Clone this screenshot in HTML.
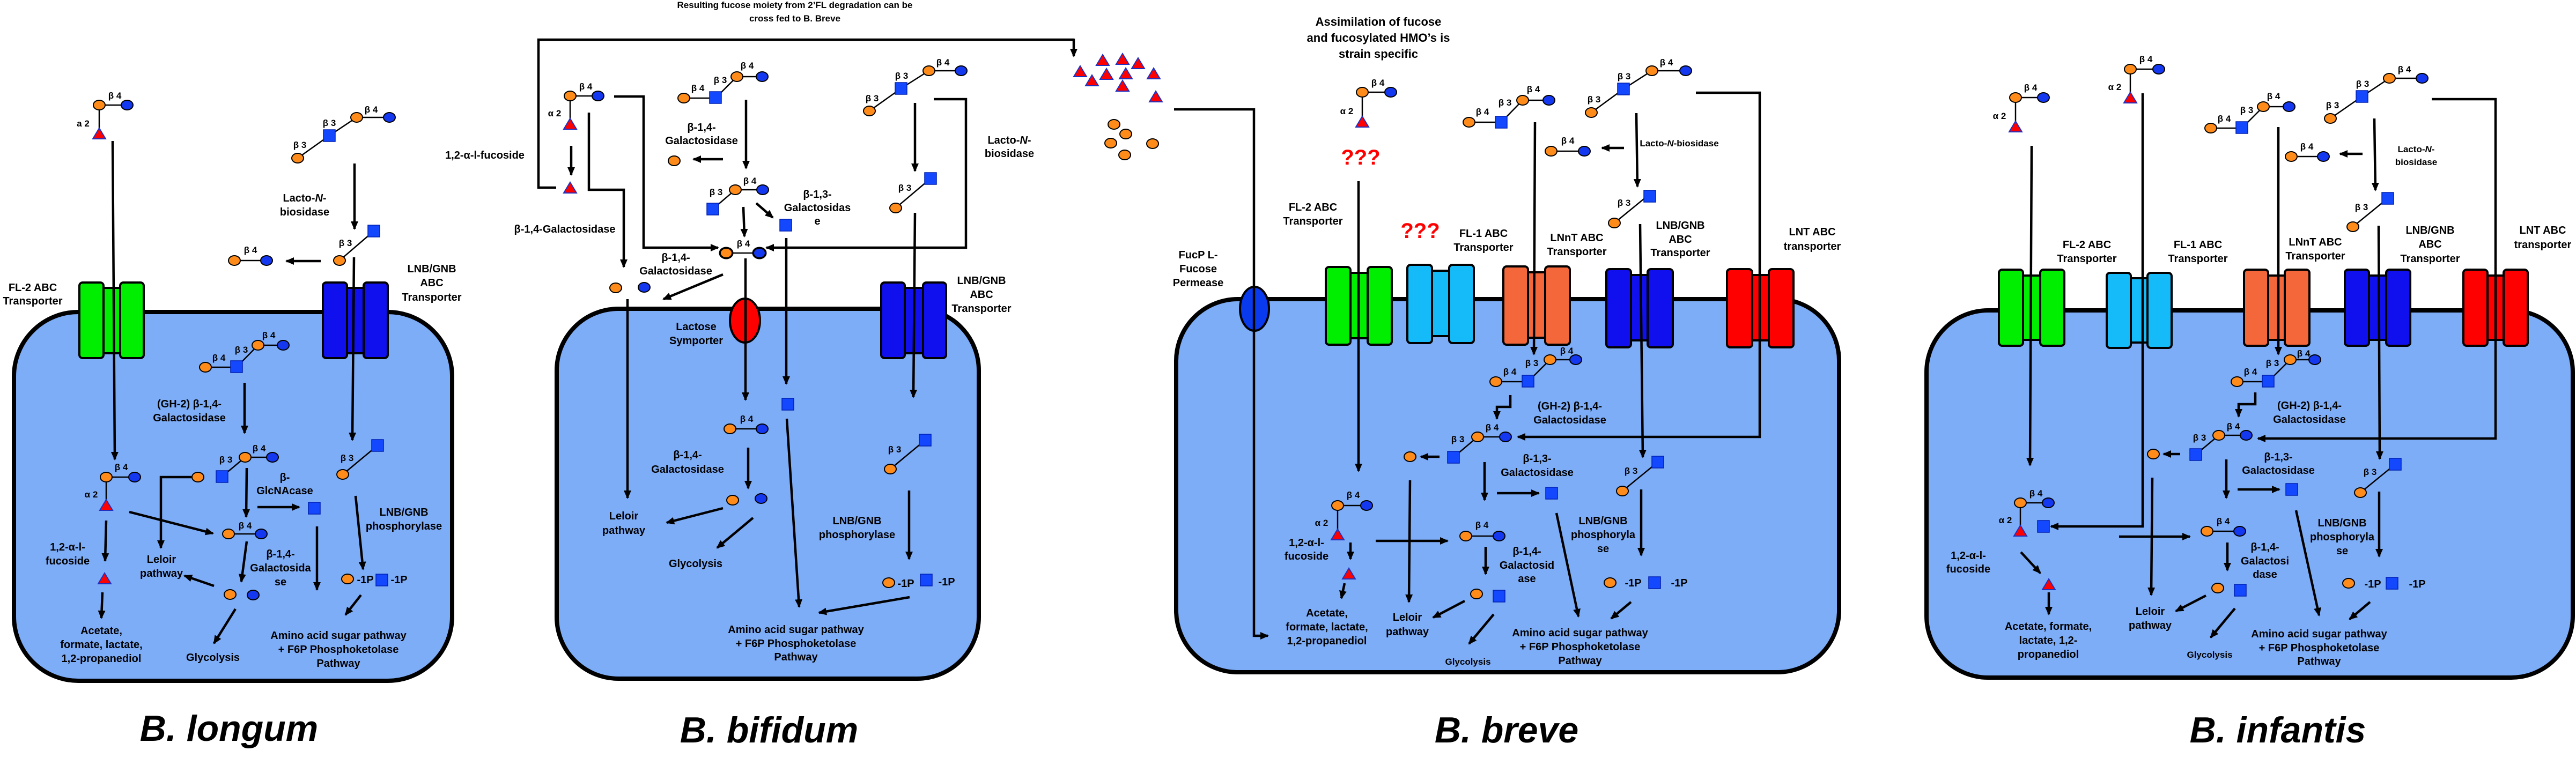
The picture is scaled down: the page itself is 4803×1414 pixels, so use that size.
<!DOCTYPE html>
<html><head><meta charset="utf-8"><style>
html,body{margin:0;padding:0;background:#fff}
svg{display:block}
text{font-family:"Liberation Sans",sans-serif;font-weight:bold;text-anchor:middle;fill:#000}
.t{font-size:20px}.b{font-size:17px}.s{font-size:17px}
.ttl{font-size:68px;font-style:italic}
.l{stroke:#000;stroke-width:4.5;fill:none}
.a{stroke:#000;stroke-width:4.5;fill:none;marker-end:url(#ah)}
.k{stroke:#000;stroke-width:2.5;fill:none}
.cell{fill:#7EADF8;stroke:#000;stroke-width:8}
.tb{stroke:#000;stroke-width:4}
.q{fill:#f00;font-size:40px}
</style></head><body>
<svg width="4803" height="1414" viewBox="0 0 4803 1414" xmlns="http://www.w3.org/2000/svg">
<defs>
<marker id="ah" markerUnits="userSpaceOnUse" markerWidth="16" markerHeight="14" refX="14" refY="7" orient="auto"><path d="M0,0 L16,7 L0,14 z" fill="#000"/></marker>
<ellipse id="gal" cx="0" cy="0" rx="11" ry="9" fill="#FF8C1A" stroke="#000" stroke-width="2"/>
<ellipse id="glc" cx="0" cy="0" rx="11" ry="9" fill="#1438F0" stroke="#000" stroke-width="2"/>
<rect id="sq" x="-11" y="-11" width="22" height="22" fill="#1448FF" stroke="#0020B0" stroke-width="1.5"/>
<polygon id="tri" points="0,-11 12,9 -12,9" fill="#F00" stroke="#2030C0" stroke-width="2"/>
</defs>

<!-- ============ PANEL 1: B. longum ============ -->
<rect class="cell" x="26" y="582" width="817" height="688" rx="120" ry="120"/>
<rect class="tb" x="193" y="537" width="31" height="122" fill="#00EE00"/>
<rect class="tb" x="148" y="527" width="45" height="141" rx="6" fill="#00EE00"/>
<rect class="tb" x="224" y="527" width="44" height="141" rx="6" fill="#00EE00"/>
<rect class="tb" x="647" y="537" width="31" height="122" fill="#1010EE"/>
<rect class="tb" x="602" y="527" width="45" height="141" rx="6" fill="#1010EE"/>
<rect class="tb" x="678" y="527" width="45" height="141" rx="6" fill="#1010EE"/>

<text class="t" x="61" y="543">FL-2 ABC</text><text class="t" x="61" y="568">Transporter</text>
<text class="t" x="805" y="508">LNB/GNB</text><text class="t" x="805" y="534">ABC</text><text class="t" x="805" y="561">Transporter</text>
<text class="t" x="568" y="376">Lacto-<tspan font-style="italic">N</tspan>-</text><text class="t" x="568" y="402">biosidase</text>
<text class="t" x="353" y="760">(GH-2) β-1,4-</text><text class="t" x="353" y="786">Galactosidase</text>
<text class="t" x="531" y="897">β-</text><text class="t" x="531" y="922">GlcNAcase</text>
<text class="t" x="523" y="1040">β-1,4-</text><text class="t" x="523" y="1066">Galactosida</text><text class="t" x="523" y="1092">se</text>
<text class="t" x="301" y="1050">Leloir</text><text class="t" x="301" y="1076">pathway</text>
<text class="t" x="397" y="1233">Glycolysis</text>
<text class="t" x="126" y="1027">1,2-α-l-</text><text class="t" x="126" y="1053">fucoside</text>
<text class="t" x="189" y="1183">Acetate,</text><text class="t" x="189" y="1209">formate, lactate,</text><text class="t" x="189" y="1235">1,2-propanediol</text>
<text class="t" x="753" y="962">LNB/GNB</text><text class="t" x="753" y="988">phosphorylase</text>
<text class="t" x="631" y="1192">Amino acid sugar pathway</text><text class="t" x="631" y="1218">+ F6P Phosphoketolase</text><text class="t" x="631" y="1244">Pathway</text>
<text class="ttl" x="427" y="1382">B. longum</text>

<path class="k" d="M185,196H237M185,196V240"/><use href="#gal" x="185" y="196"/><use href="#glc" x="237" y="196"/><use href="#tri" x="185" y="250"/>
<text class="b" x="214" y="184">β 4</text><text class="b" x="155" y="236">a 2</text>
<path class="a" d="M210,263L214,857"/>
<path class="k" d="M555,295L614,253L665,219H726"/><use href="#gal" x="555" y="295"/><use href="#sq" x="614" y="253"/><use href="#gal" x="665" y="219"/><use href="#glc" x="726" y="219"/>
<text class="b" x="559" y="276">β 3</text><text class="b" x="614" y="235">β 3</text><text class="b" x="692" y="210">β 4</text>
<path class="a" d="M661,305V427"/>
<path class="k" d="M633,486L697,431"/><use href="#gal" x="633" y="486"/><use href="#sq" x="697" y="431"/><text class="b" x="644" y="459">β 3</text>
<path class="a" d="M598,487H534"/>
<path class="k" d="M437,486H497"/><use href="#gal" x="437" y="486"/><use href="#glc" x="497" y="486"/><text class="b" x="467" y="472">β 4</text>
<path class="a" d="M660,480L657,821"/>
<path class="k" d="M383,685H441L481,644H528"/><use href="#gal" x="383" y="685"/><use href="#sq" x="441" y="684"/><use href="#gal" x="481" y="644"/><use href="#glc" x="528" y="644"/>
<text class="b" x="408" y="673">β 4</text><text class="b" x="450" y="658">β 3</text><text class="b" x="501" y="631">β 4</text>
<path class="a" d="M456,714V808"/>
<path class="k" d="M414,889L457,853H508"/><use href="#sq" x="414" y="889"/><use href="#gal" x="457" y="853"/><use href="#glc" x="508" y="853"/>
<text class="b" x="421" y="863">β 3</text><text class="b" x="483" y="842">β 4</text>
<path class="a" d="M460,873L459,964"/>
<path class="a" d="M480,946H558"/><use href="#sq" x="586" y="948"/>
<path class="a" d="M591,982V1100"/>
<path class="k" d="M426,996H487"/><use href="#gal" x="426" y="996"/><use href="#glc" x="487" y="996"/><text class="b" x="457" y="986">β 4</text>
<path class="a" d="M460,1010L450,1085"/>
<use href="#gal" x="429" y="1109"/><use href="#glc" x="472" y="1110"/>
<path class="a" d="M399,1093L344,1074"/>
<use href="#gal" x="369" y="890"/><path class="a" d="M357,890H300V1022"/>
<path class="a" d="M439,1136L399,1200"/>
<path class="k" d="M198,890H251M198,890V933"/><use href="#gal" x="198" y="890"/><use href="#glc" x="251" y="890"/><use href="#tri" x="198" y="943"/>
<text class="b" x="226" y="877">β 4</text><text class="b" x="170" y="928">α 2</text>
<path class="a" d="M198,971L196,1046"/><use href="#tri" x="195" y="1080"/>
<path class="a" d="M191,1105L189,1153"/>
<path class="a" d="M241,955L397,995"/>
<path class="k" d="M639,885L704,831"/><use href="#gal" x="639" y="885"/><use href="#sq" x="704" y="831"/><text class="b" x="647" y="860">β 3</text>
<path class="a" d="M663,925L677,1062"/>
<use href="#gal" x="648" y="1080"/><text class="t" x="681" y="1088">-1P</text><use href="#sq" x="712" y="1082"/><text class="t" x="744" y="1088">-1P</text>
<path class="a" d="M673,1110L644,1147"/>

<!-- ============ PANEL 2: B. bifidum ============ -->
<text class="s" x="1482" y="15">Resulting fucose moiety from 2’FL degradation can be</text>
<text class="s" x="1482" y="40">cross fed to B. Breve</text>
<path class="l" d="M1037,350H1004V74H2002"/><path class="a" d="M2002,72V105"/>
<text class="t" x="904" y="296">1,2-α-l-fucoside</text>
<text class="t" x="1053" y="434">β-1,4-Galactosidase</text>

<rect class="cell" x="1038" y="576" width="787" height="690" rx="115" ry="115"/>
<rect class="tb" x="1687" y="537" width="34" height="122" fill="#1010EE"/>
<rect class="tb" x="1643" y="527" width="44" height="141" rx="6" fill="#1010EE"/>
<rect class="tb" x="1721" y="527" width="43" height="141" rx="6" fill="#1010EE"/>
<ellipse cx="1389" cy="598" rx="28" ry="41" fill="#F00" stroke="#000" stroke-width="4"/>

<path class="k" d="M1063,179H1115M1063,179V222"/><use href="#gal" x="1063" y="179"/><use href="#glc" x="1115" y="179"/><use href="#tri" x="1063" y="232"/>
<text class="b" x="1092" y="167">β 4</text><text class="b" x="1034" y="217">α 2</text>
<path class="a" d="M1065,272V326"/><use href="#tri" x="1063" y="351"/>
<path class="a" d="M1145,180H1200V462H1339"/>
<path class="a" d="M1098,210V354H1163V498"/>
<use href="#gal" x="1148" y="537"/><use href="#glc" x="1201" y="536"/>
<text class="t" x="1260" y="487">β-1,4-</text><text class="t" x="1260" y="512">Galactosidase</text>
<path class="a" d="M1348,512L1237,558"/>
<path class="a" d="M1170,558V929"/>
<path class="k" d="M1275,183H1334L1374,143H1421"/><use href="#gal" x="1275" y="183"/><use href="#sq" x="1334" y="182"/><use href="#gal" x="1374" y="143"/><use href="#glc" x="1421" y="143"/>
<text class="b" x="1301" y="170">β 4</text><text class="b" x="1343" y="155">β 3</text><text class="b" x="1393" y="128">β 4</text>
<path class="a" d="M1391,186V314"/>
<text class="t" x="1308" y="244">β-1,4-</text><text class="t" x="1308" y="269">Galactosidase</text>
<path class="a" d="M1348,297H1293"/><use href="#gal" x="1257" y="300"/>
<path class="k" d="M1329,390L1371,354H1422"/><use href="#sq" x="1329" y="390"/><use href="#gal" x="1371" y="354"/><use href="#glc" x="1422" y="354"/>
<text class="b" x="1335" y="364">β 3</text><text class="b" x="1398" y="343">β 4</text>
<path class="a" d="M1386,386L1388,441"/>
<path class="a" d="M1410,379L1441,406"/><use href="#sq" x="1465" y="420"/>
<text class="t" x="1524" y="369">β-1,3-</text><text class="t" x="1524" y="394">Galactosidas</text><text class="t" x="1524" y="419">e</text>
<path class="k" d="M1354,472H1416"/><use href="#gal" x="1354" y="472"/><use href="#glc" x="1416" y="472"/>
<ellipse cx="1354" cy="472" rx="12" ry="10" fill="none" stroke="#000" stroke-width="3"/><ellipse cx="1416" cy="472" rx="12" ry="10" fill="none" stroke="#000" stroke-width="3"/>
<text class="b" x="1386" y="460">β 4</text>
<path class="a" d="M1466,444V716"/>
<path class="a" d="M1390,482V746"/>
<text class="t" x="1298" y="616">Lactose</text><text class="t" x="1298" y="642">Symporter</text>
<text class="t" x="1830" y="530">LNB/GNB</text><text class="t" x="1830" y="556">ABC</text><text class="t" x="1830" y="582">Transporter</text>
<path class="k" d="M1621,207L1680,165L1732,132H1792"/><use href="#gal" x="1621" y="207"/><use href="#sq" x="1680" y="165"/><use href="#gal" x="1732" y="132"/><use href="#glc" x="1792" y="132"/>
<text class="b" x="1626" y="189">β 3</text><text class="b" x="1681" y="147">β 3</text><text class="b" x="1758" y="122">β 4</text>
<path class="a" d="M1706,192V319"/>
<path class="a" d="M1741,185H1801V462H1429"/>
<text class="t" x="1882" y="268">Lacto-<tspan font-style="italic">N</tspan>-</text><text class="t" x="1882" y="293">biosidase</text>
<path class="k" d="M1670,388L1735,333"/><use href="#gal" x="1670" y="388"/><use href="#sq" x="1735" y="333"/><text class="b" x="1687" y="356">β 3</text>
<path class="a" d="M1706,397L1703,741"/>
<use href="#sq" x="1469" y="754"/>
<path class="a" d="M1467,781L1490,1132"/>
<path class="k" d="M1361,800H1421"/><use href="#gal" x="1361" y="800"/><use href="#glc" x="1421" y="800"/><text class="b" x="1392" y="787">β 4</text>
<text class="t" x="1282" y="855">β-1,4-</text><text class="t" x="1282" y="882">Galactosidase</text>
<path class="a" d="M1395,835V911"/>
<use href="#gal" x="1366" y="933"/><use href="#glc" x="1419" y="930"/>
<path class="a" d="M1348,948L1243,975"/>
<path class="a" d="M1404,966L1337,1022"/>
<text class="t" x="1163" y="969">Leloir</text><text class="t" x="1163" y="996">pathway</text>
<text class="t" x="1297" y="1058">Glycolysis</text>
<path class="k" d="M1660,875L1725,821"/><use href="#gal" x="1660" y="875"/><use href="#sq" x="1725" y="821"/><text class="b" x="1668" y="844">β 3</text>
<path class="a" d="M1695,915V1043"/>
<text class="t" x="1598" y="978">LNB/GNB</text><text class="t" x="1598" y="1004">phosphorylase</text>
<use href="#gal" x="1657" y="1087"/><text class="t" x="1689" y="1095">-1P</text><use href="#sq" x="1727" y="1082"/><text class="t" x="1765" y="1092">-1P</text>
<path class="a" d="M1696,1114L1527,1143"/>
<text class="t" x="1484" y="1181">Amino acid sugar pathway</text><text class="t" x="1484" y="1207">+ F6P Phosphoketolase</text><text class="t" x="1484" y="1232">Pathway</text>
<text class="ttl" x="1434" y="1385">B. bifidum</text>

<use href="#tri" x="2014" y="134"/><use href="#tri" x="2056" y="113"/><use href="#tri" x="2093" y="111"/><use href="#tri" x="2122" y="119"/><use href="#tri" x="2151" y="138"/>
<use href="#tri" x="2036" y="151"/><use href="#tri" x="2063" y="139"/><use href="#tri" x="2099" y="138"/><use href="#tri" x="2093" y="161"/><use href="#tri" x="2155" y="181"/>
<use href="#gal" x="2077" y="232"/><use href="#gal" x="2099" y="250"/><use href="#gal" x="2071" y="267"/><use href="#gal" x="2149" y="268"/><use href="#gal" x="2097" y="289"/>

<!-- ============ PANEL 3: B. breve ============ -->
<text style="font-size:22px" x="2570" y="48">Assimilation of fucose</text>
<text style="font-size:22px" x="2570" y="78">and fucosylated HMO’s is</text>
<text style="font-size:22px" x="2570" y="108">strain specific</text>
<rect class="cell" x="2193" y="558" width="1236" height="696" rx="115" ry="115"/>
<path class="a" d="M2189,204H2338V1186H2364"/>
<ellipse cx="2339" cy="576" rx="27" ry="41" fill="#0A3AEE" stroke="#000" stroke-width="4"/>
<path class="l" d="M2338,535V617"/>
<rect class="tb" x="2518" y="509" width="32" height="122" fill="#00EE00"/>
<rect class="tb" x="2472" y="498" width="46" height="145" rx="6" fill="#00EE00"/>
<rect class="tb" x="2550" y="498" width="45" height="145" rx="6" fill="#00EE00"/>
<rect class="tb" x="2670" y="505" width="32" height="122" fill="#14BBF8"/>
<rect class="tb" x="2624" y="494" width="46" height="146" rx="6" fill="#14BBF8"/>
<rect class="tb" x="2702" y="494" width="46" height="146" rx="6" fill="#14BBF8"/>
<rect class="tb" x="2849" y="508" width="32" height="122" fill="#F4673A"/>
<rect class="tb" x="2803" y="497" width="46" height="146" rx="6" fill="#F4673A"/>
<rect class="tb" x="2881" y="497" width="46" height="146" rx="6" fill="#F4673A"/>
<rect class="tb" x="3041" y="513" width="31" height="122" fill="#1010EE"/>
<rect class="tb" x="2995" y="502" width="46" height="146" rx="6" fill="#1010EE"/>
<rect class="tb" x="3072" y="502" width="47" height="146" rx="6" fill="#1010EE"/>
<rect class="tb" x="3267" y="513" width="31" height="122" fill="#F00"/>
<rect class="tb" x="3220" y="502" width="47" height="146" rx="6" fill="#F00"/>
<rect class="tb" x="3298" y="502" width="46" height="146" rx="6" fill="#F00"/>

<text class="t" x="2234" y="482">FucP L-</text><text class="t" x="2234" y="508">Fucose</text><text class="t" x="2234" y="534">Permease</text>
<text class="t" x="2448" y="393">FL-2 ABC</text><text class="t" x="2448" y="419">Transporter</text>
<text class="q" x="2648" y="444">???</text>
<text class="t" x="2766" y="442">FL-1 ABC</text><text class="t" x="2766" y="468">Transporter</text>
<text class="t" x="2940" y="450">LNnT ABC</text><text class="t" x="2940" y="476">Transporter</text>
<text class="t" x="3133" y="427">LNB/GNB</text><text class="t" x="3133" y="453">ABC</text><text class="t" x="3133" y="478">Transporter</text>
<text class="t" x="3379" y="439">LNT ABC</text><text class="t" x="3379" y="466">transporter</text>

<path class="k" d="M2540,172H2593M2540,172V218"/><use href="#gal" x="2540" y="172"/><use href="#glc" x="2593" y="172"/><use href="#tri" x="2540" y="228"/>
<text class="b" x="2569" y="160">β 4</text><text class="b" x="2511" y="213">α 2</text>
<text class="q" x="2537" y="307">???</text>
<path class="a" d="M2533,338V879"/>
<path class="k" d="M2739,228H2799L2839,187H2888"/><use href="#gal" x="2739" y="228"/><use href="#sq" x="2799" y="228"/><use href="#gal" x="2839" y="187"/><use href="#glc" x="2888" y="187"/>
<text class="b" x="2764" y="214">β 4</text><text class="b" x="2806" y="197">β 3</text><text class="b" x="2859" y="172">β 4</text>
<path class="a" d="M2862,228L2860,661"/>
<path class="k" d="M2967,210L3027,166L3080,132H3143"/><use href="#gal" x="2967" y="210"/><use href="#sq" x="3027" y="166"/><use href="#gal" x="3080" y="132"/><use href="#glc" x="3143" y="132"/>
<text class="b" x="2972" y="191">β 3</text><text class="b" x="3028" y="148">β 3</text><text class="b" x="3107" y="122">β 4</text>
<path class="a" d="M3162,173H3281V815H2830"/>
<path class="a" d="M3051,211L3053,348"/>
<path class="a" d="M3028,276H2987"/>
<path class="k" d="M2892,282H2954"/><use href="#gal" x="2892" y="282"/><use href="#glc" x="2954" y="282"/><text class="b" x="2923" y="268">β 4</text>
<text class="s" x="3131" y="273">Lacto-<tspan font-style="italic">N</tspan>-biosidase</text>
<path class="k" d="M3010,416L3076,362"/><use href="#gal" x="3010" y="416"/><use href="#sq" x="3076" y="366"/><text class="b" x="3028" y="384">β 3</text>
<path class="a" d="M3058,418L3063,853"/>
<path class="k" d="M2789,712H2849L2890,671H2938"/><use href="#gal" x="2789" y="712"/><use href="#sq" x="2849" y="711"/><use href="#gal" x="2890" y="671"/><use href="#glc" x="2938" y="671"/>
<text class="b" x="2815" y="699">β 4</text><text class="b" x="2856" y="683">β 3</text><text class="b" x="2921" y="660">β 4</text>
<path class="a" d="M2816,737V759H2791V781"/>
<text class="t" x="2927" y="764">(GH-2) β-1,4-</text><text class="t" x="2927" y="790">Galactosidase</text>
<path class="k" d="M2710,853L2755,815H2807"/><use href="#sq" x="2710" y="853"/><use href="#gal" x="2755" y="815"/><use href="#glc" x="2807" y="815"/>
<text class="b" x="2718" y="825">β 3</text><text class="b" x="2782" y="803">β 4</text>
<path class="a" d="M2684,852H2649"/><use href="#gal" x="2629" y="852"/>
<path class="a" d="M2629,896L2627,1123"/>
<path class="a" d="M2768,862V933"/>
<text class="t" x="2866" y="862">β-1,3-</text><text class="t" x="2866" y="888">Galactosidase</text>
<path class="a" d="M2791,920H2869"/><use href="#sq" x="2893" y="920"/>
<path class="a" d="M2902,957L2943,1150"/>
<path class="k" d="M2494,943H2548M2494,943V988"/><use href="#gal" x="2494" y="943"/><use href="#glc" x="2548" y="943"/><use href="#tri" x="2494" y="998"/>
<text class="b" x="2523" y="929">β 4</text><text class="b" x="2464" y="981">α 2</text>
<text class="t" x="2436" y="1019">1,2-α-l-</text><text class="t" x="2436" y="1044">fucoside</text>
<path class="a" d="M2518,1012V1043"/><use href="#tri" x="2515" y="1071"/>
<path class="a" d="M2507,1088L2501,1116"/>
<text class="t" x="2474" y="1150">Acetate,</text><text class="t" x="2474" y="1176">formate, lactate,</text><text class="t" x="2474" y="1202">1,2-propanediol</text>
<path class="a" d="M2565,1009H2699"/>
<path class="k" d="M2733,1000H2795"/><use href="#gal" x="2733" y="1000"/><use href="#glc" x="2795" y="1000"/><text class="b" x="2763" y="985">β 4</text>
<text class="t" x="2847" y="1035">β-1,4-</text><text class="t" x="2847" y="1061">Galactosid</text><text class="t" x="2847" y="1086">ase</text>
<path class="a" d="M2770,1020V1071"/>
<use href="#gal" x="2753" y="1108"/><use href="#sq" x="2795" y="1112"/>
<path class="a" d="M2731,1121L2672,1152"/>
<text class="t" x="2624" y="1158">Leloir</text><text class="t" x="2624" y="1185">pathway</text>
<path class="a" d="M2785,1146L2739,1201"/>
<text class="s" x="2737" y="1240">Glycolysis</text>
<path class="k" d="M3025,916L3091,862"/><use href="#gal" x="3025" y="916"/><use href="#sq" x="3091" y="862"/><text class="b" x="3041" y="884">β 3</text>
<path class="a" d="M3060,913V1036"/>
<text class="t" x="2989" y="978">LNB/GNB</text><text class="t" x="2989" y="1004">phosphoryla</text><text class="t" x="2989" y="1030">se</text>
<use href="#gal" x="3002" y="1087"/><text class="t" x="3045" y="1094">-1P</text><use href="#sq" x="3085" y="1087"/><text class="t" x="3131" y="1094">-1P</text>
<path class="a" d="M3041,1123L3004,1154"/>
<text class="t" x="2946" y="1187">Amino acid sugar pathway</text><text class="t" x="2946" y="1213">+ F6P Phosphoketolase</text><text class="t" x="2946" y="1239">Pathway</text>
<text class="ttl" x="2809" y="1385">B. breve</text>

<!-- ============ PANEL 4: B. infantis ============ -->
<rect class="cell" x="3592" y="579" width="1205" height="685" rx="115" ry="115"/>
<rect class="tb" x="3772" y="514" width="32" height="120" fill="#00EE00"/>
<rect class="tb" x="3727" y="503" width="45" height="142" rx="6" fill="#00EE00"/>
<rect class="tb" x="3804" y="503" width="45" height="142" rx="6" fill="#00EE00"/>
<rect class="tb" x="3973" y="519" width="31" height="120" fill="#14BBF8"/>
<rect class="tb" x="3928" y="509" width="45" height="140" rx="6" fill="#14BBF8"/>
<rect class="tb" x="4004" y="509" width="45" height="140" rx="6" fill="#14BBF8"/>
<rect class="tb" x="4229" y="514" width="31" height="120" fill="#F4673A"/>
<rect class="tb" x="4184" y="503" width="45" height="142" rx="6" fill="#F4673A"/>
<rect class="tb" x="4260" y="503" width="46" height="142" rx="6" fill="#F4673A"/>
<rect class="tb" x="4417" y="514" width="32" height="120" fill="#1010EE"/>
<rect class="tb" x="4372" y="503" width="45" height="142" rx="6" fill="#1010EE"/>
<rect class="tb" x="4449" y="503" width="45" height="142" rx="6" fill="#1010EE"/>
<rect class="tb" x="4638" y="514" width="30" height="120" fill="#F00"/>
<rect class="tb" x="4593" y="503" width="45" height="142" rx="6" fill="#F00"/>
<rect class="tb" x="4668" y="503" width="45" height="142" rx="6" fill="#F00"/>

<text class="t" x="3891" y="463">FL-2 ABC</text><text class="t" x="3891" y="489">Transporter</text>
<text class="t" x="4098" y="463">FL-1 ABC</text><text class="t" x="4098" y="489">Transporter</text>
<text class="t" x="4317" y="458">LNnT ABC</text><text class="t" x="4317" y="484">Transporter</text>
<text class="t" x="4531" y="436">LNB/GNB</text><text class="t" x="4531" y="462">ABC</text><text class="t" x="4531" y="489">Transporter</text>
<text class="t" x="4741" y="436">LNT ABC</text><text class="t" x="4741" y="463">transporter</text>

<path class="k" d="M3758,182H3810M3758,182V227"/><use href="#gal" x="3758" y="182"/><use href="#glc" x="3810" y="182"/><use href="#tri" x="3758" y="237"/>
<text class="b" x="3786" y="169">β 4</text><text class="b" x="3728" y="222">α 2</text>
<path class="a" d="M3788,272L3785,868"/>
<path class="k" d="M3972,129H4025M3972,129V173"/><use href="#gal" x="3972" y="129"/><use href="#glc" x="4025" y="129"/><use href="#tri" x="3972" y="183"/>
<text class="b" x="4001" y="116">β 4</text><text class="b" x="3943" y="168">α 2</text>
<path class="a" d="M3995,174V982H3824"/><use href="#sq" x="3810" y="982"/>
<path class="k" d="M4122,239H4180L4220,199H4268"/><use href="#gal" x="4122" y="239"/><use href="#sq" x="4180" y="238"/><use href="#gal" x="4220" y="199"/><use href="#glc" x="4268" y="199"/>
<text class="b" x="4147" y="227">β 4</text><text class="b" x="4189" y="211">β 3</text><text class="b" x="4239" y="185">β 4</text>
<path class="a" d="M4248,237V661"/>
<path class="k" d="M4345,221L4404,180L4455,146H4516"/><use href="#gal" x="4345" y="221"/><use href="#sq" x="4404" y="180"/><use href="#gal" x="4455" y="146"/><use href="#glc" x="4516" y="146"/>
<text class="b" x="4349" y="202">β 3</text><text class="b" x="4405" y="162">β 3</text><text class="b" x="4483" y="135">β 4</text>
<path class="a" d="M4534,185H4653V818H4210"/>
<path class="a" d="M4427,221L4429,355"/>
<path class="a" d="M4405,287H4363"/>
<path class="k" d="M4272,292H4332"/><use href="#gal" x="4272" y="292"/><use href="#glc" x="4332" y="292"/><text class="b" x="4301" y="279">β 4</text>
<text class="s" x="4505" y="284">Lacto-<tspan font-style="italic">N</tspan>-</text><text class="s" x="4505" y="308">biosidase</text>
<path class="k" d="M4387,423L4452,370"/><use href="#gal" x="4387" y="423"/><use href="#sq" x="4452" y="370"/><text class="b" x="4403" y="392">β 3</text>
<path class="a" d="M4435,421L4437,856"/>
<path class="k" d="M4171,712H4229L4270,671H4316"/><use href="#gal" x="4171" y="712"/><use href="#sq" x="4229" y="711"/><use href="#gal" x="4270" y="671"/><use href="#glc" x="4316" y="671"/>
<text class="b" x="4196" y="699">β 4</text><text class="b" x="4237" y="683">β 3</text><text class="b" x="4295" y="665">β 4</text>
<path class="a" d="M4205,732V754H4174V777"/>
<text class="t" x="4306" y="763">(GH-2) β-1,4-</text><text class="t" x="4306" y="789">Galactosidase</text>
<path class="k" d="M4094,848L4137,812H4188"/><use href="#sq" x="4094" y="848"/><use href="#gal" x="4137" y="812"/><use href="#glc" x="4188" y="812"/>
<text class="b" x="4101" y="822">β 3</text><text class="b" x="4164" y="801">β 4</text>
<path class="a" d="M4065,847H4034"/><use href="#gal" x="4015" y="847"/>
<path class="a" d="M4013,891L4011,1110"/>
<path class="a" d="M4151,857V929"/>
<text class="t" x="4248" y="859">β-1,3-</text><text class="t" x="4248" y="884">Galactosidase</text>
<path class="a" d="M4172,913H4250"/><use href="#sq" x="4273" y="913"/>
<path class="a" d="M4281,952L4324,1148"/>
<path class="k" d="M3767,938H3819M3767,938V981"/><use href="#gal" x="3767" y="938"/><use href="#glc" x="3819" y="938"/><use href="#tri" x="3767" y="991"/>
<text class="b" x="3796" y="926">β 4</text><text class="b" x="3739" y="976">α 2</text>
<text class="t" x="3670" y="1043">1,2-α-l-</text><text class="t" x="3670" y="1068">fucoside</text>
<path class="a" d="M3768,1030L3804,1069"/><use href="#tri" x="3820" y="1091"/>
<path class="a" d="M3820,1105V1146"/>
<text class="t" x="3819" y="1175">Acetate, formate,</text><text class="t" x="3819" y="1201">lactate, 1,2-</text><text class="t" x="3819" y="1227">propanediol</text>
<path class="a" d="M3951,1001H4083"/>
<path class="k" d="M4115,991H4176"/><use href="#gal" x="4115" y="991"/><use href="#glc" x="4176" y="991"/><text class="b" x="4145" y="978">β 4</text>
<text class="t" x="4223" y="1027">β-1,4-</text><text class="t" x="4223" y="1053">Galactosi</text><text class="t" x="4223" y="1078">dase</text>
<path class="a" d="M4153,1012V1064"/>
<use href="#gal" x="4135" y="1097"/><use href="#sq" x="4177" y="1101"/>
<path class="a" d="M4113,1111L4057,1140"/>
<text class="t" x="4009" y="1147">Leloir</text><text class="t" x="4009" y="1173">pathway</text>
<path class="a" d="M4167,1135L4122,1189"/>
<text class="s" x="4120" y="1227">Glycolysis</text>
<path class="k" d="M4401,919L4466,866"/><use href="#gal" x="4401" y="919"/><use href="#sq" x="4466" y="866"/><text class="b" x="4419" y="886">β 3</text>
<path class="a" d="M4436,917V1038"/>
<text class="t" x="4367" y="982">LNB/GNB</text><text class="t" x="4367" y="1008">phosphoryla</text><text class="t" x="4367" y="1034">se</text>
<use href="#gal" x="4379" y="1088"/><text class="t" x="4424" y="1096">-1P</text><use href="#sq" x="4460" y="1088"/><text class="t" x="4507" y="1096">-1P</text>
<path class="a" d="M4419,1123L4381,1155"/>
<text class="t" x="4324" y="1189">Amino acid sugar pathway</text><text class="t" x="4324" y="1215">+ F6P Phosphoketolase</text><text class="t" x="4324" y="1240">Pathway</text>
<text class="ttl" x="4247" y="1385">B. infantis</text>
</svg>
</body></html>
